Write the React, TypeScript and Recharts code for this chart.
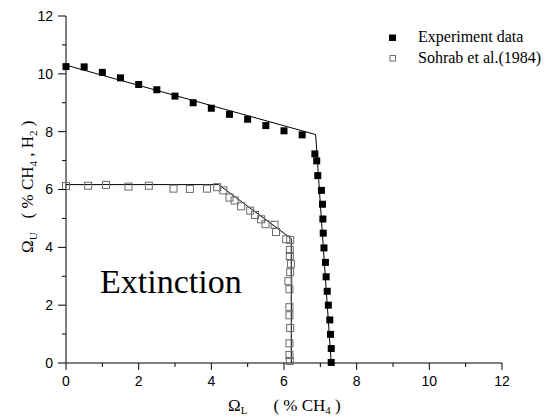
import { ScatterChart, Scatter, XAxis, YAxis, Customized } from "recharts";

// experiment data (filled squares)
const expX = [0, 0.5, 1, 1.5, 2, 2.5, 3, 3.5, 4, 4.5, 5, 5.5, 6, 6.5, 6.85, 6.9, 6.93, 7.03, 7.06, 7.07, 7.08, 7.1, 7.14, 7.16, 7.19, 7.22, 7.26, 7.28, 7.3, 7.3];
const expY = [10.25, 10.24, 10.05, 9.86, 9.63, 9.45, 9.23, 9.0, 8.81, 8.6, 8.43, 8.21, 8.03, 7.89, 7.23, 6.99, 6.48, 5.97, 5.49, 4.98, 4.49, 3.98, 3.48, 2.98, 2.48, 2.0, 1.49, 0.99, 0.5, 0.02];

// Sohrab et al. (1984) (open squares)
const sohX = [0, 0.61, 1.1, 1.72, 2.28, 2.96, 3.41, 3.88, 4.16, 4.33, 4.5, 4.64, 4.82, 5.07, 5.2, 5.37, 5.49, 5.74, 5.78, 6.06, 6.17, 6.16, 6.16, 6.19, 6.17, 6.12, 6.15, 6.15, 6.15, 6.17, 6.15, 6.15, 6.16];
const sohY = [6.12, 6.13, 6.16, 6.1, 6.13, 6.03, 6.02, 6.03, 6.08, 5.97, 5.72, 5.62, 5.42, 5.27, 5.12, 4.97, 4.8, 4.78, 4.53, 4.28, 4.25, 3.91, 3.7, 3.43, 3.14, 2.83, 2.55, 1.93, 1.65, 1.21, 0.68, 0.28, 0.07];

// fitted boundary lines
const expFitX = [0, 6.87, 7.3];
const expFitY = [10.3, 7.9, 0];
const sohFitX = [0, 4.2, 6.2, 6.2];
const sohFitY = [6.17, 6.17, 4.3, 0];

const axisTicks = [0, 1, 2, 3, 4, 5, 6, 7, 8, 9, 10, 11, 12];

const zip = (xs: number[], ys: number[]) => xs.map((x, i) => ({ x, y: ys[i] }));
const expData = zip(expX, expY);
const sohData = zip(sohX, sohY);
const expFit = zip(expFitX, expFitY);
const sohFit = zip(sohFitX, sohFitY);

const SANS = "'Liberation Sans', Arial, sans-serif";
const SERIF = "'Liberation Serif', 'Times New Roman', serif";

const XTick = (props: any) => {
  const { x, y, payload } = props;
  const major = payload.value % 2 === 0;
  return (
    <g>
      <line x1={x} x2={x} y1={y} y2={y + (major ? 7 : 4)} stroke="#000" />
      {major && (
        <text x={x} y={y + 18} dy="0.35em" textAnchor="middle" fontSize={14} fontFamily={SANS} fill="#000">
          {payload.value}
        </text>
      )}
    </g>
  );
};

const YTick = (props: any) => {
  const { x, y, payload } = props;
  const major = payload.value % 2 === 0;
  return (
    <g>
      <line x1={x - (major ? 8 : 4)} x2={x} y1={y} y2={y} stroke="#000" />
      {major && (
        <text x={x - 13} y={y} dy="0.35em" textAnchor="end" fontSize={14} fontFamily={SANS} fill="#000">
          {payload.value}
        </text>
      )}
    </g>
  );
};

const FilledSquare = (props: any) => (
  <rect x={props.cx - 3.5} y={props.cy - 3.5} width={7} height={7} fill="#000" />
);
const OpenSquare = (props: any) => (
  <rect x={props.cx - 3.5} y={props.cy - 3.5} width={7} height={7} fill="none" stroke="#6b6b6b" strokeWidth={1} />
);
const NoDot = () => <g />;

// titles, legend and the "Extinction" note
const Texts = () => (
  <g fontFamily={SERIF} fill="#000">
    <text x={100} y={293} fontSize={34}>Extinction</text>

    <rect x={389} y={34.5} width={7} height={6.5} fill="#000" />
    <text x={418} y={42} fontSize={16}>Experiment data</text>
    <rect x={390} y={55.5} width={5.5} height={5.5} fill="none" stroke="#6b6b6b" />
    <text x={418} y={63} fontSize={16}>Sohrab et al.(1984)</text>

    <text x={228} y={411} fontSize={17}>
      Ω<tspan fontSize={11} dy={3}>L</tspan>
      <tspan dx={26} dy={-3}>( % CH</tspan>
      <tspan fontSize={11} dy={3}>4</tspan>
      <tspan dy={-3}> )</tspan>
    </text>

    <text transform="translate(33,253) rotate(-90)" fontSize={17}>
      Ω<tspan fontSize={11} dy={4}>U</tspan>
      <tspan dx={14} dy={-4}>( % CH</tspan>
      <tspan fontSize={11} dy={4}>4</tspan>
      <tspan dy={-4}> , H</tspan>
      <tspan fontSize={11} dy={4}>2</tspan>
      <tspan dy={-4}> )</tspan>
    </text>
  </g>
);

export default function App() {
  return (
    <div style={{ position: "absolute", left: 0, top: 0, width: 553, height: 418, background: "#fff" }}>
      <ScatterChart width={553} height={418} margin={{ top: 16, right: 51, bottom: 0, left: 0 }}>
        <XAxis
          type="number"
          dataKey="x"
          domain={[0, 12]}
          ticks={axisTicks}
          interval={0}
          tickSize={0}
          tickMargin={0}
          tick={<XTick />}
          axisLine={{ stroke: "#000" }}
          tickLine={false}
          height={55}
        />
        <YAxis
          type="number"
          dataKey="y"
          domain={[0, 12]}
          ticks={axisTicks}
          interval={0}
          tickSize={0}
          tickMargin={0}
          tick={<YTick />}
          axisLine={{ stroke: "#000" }}
          tickLine={false}
          width={66}
        />
        <Scatter data={expFit} line={{ stroke: "#000", strokeWidth: 1 }} lineType="joint" shape={<NoDot />} isAnimationActive={false} />
        <Scatter data={sohFit} line={{ stroke: "#000", strokeWidth: 1 }} lineType="joint" shape={<NoDot />} isAnimationActive={false} />
        <Scatter data={sohData} shape={<OpenSquare />} isAnimationActive={false} />
        <Scatter data={expData} shape={<FilledSquare />} isAnimationActive={false} />
        <Customized component={<Texts />} />
      </ScatterChart>
    </div>
  );
}
